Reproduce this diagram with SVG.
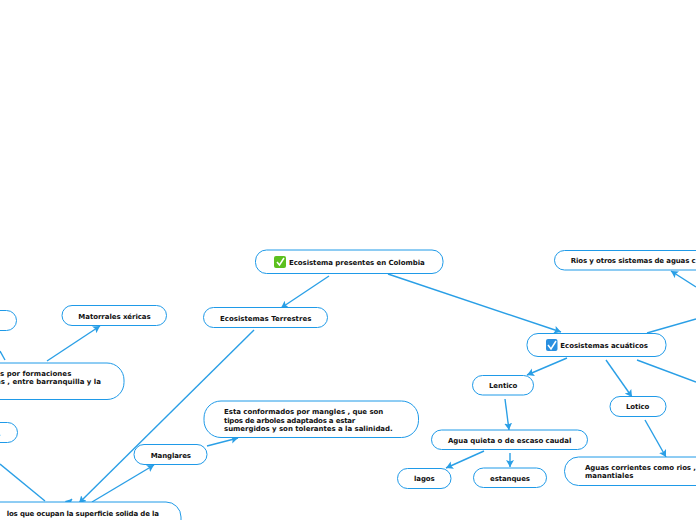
<svg xmlns="http://www.w3.org/2000/svg" width="696" height="520" viewBox="0 0 696 520">
<style>
.n{fill:#fff;stroke:#1f9ae8;stroke-width:1}
text{font-family:"DejaVu Sans",Verdana,sans-serif;font-weight:700;font-size:7px;fill:#111}
.c{fill:none;stroke:#2a9fe6;stroke-width:1.4;marker-end:url(#a)}
.e{fill:none;stroke:#2a9fe6;stroke-width:1.4}
</style>
<defs>
<marker id="a" markerUnits="userSpaceOnUse" markerWidth="10" markerHeight="10" refX="7" refY="4" orient="auto"><path d="M0,0L7,4L0,8L1.5,4Z" fill="#2a9fe6"/></marker>
</defs>
<rect width="696" height="520" fill="#fff"/>
<g id="connectors">
<path class="c" d="M329,276L281,308"/>
<path class="c" d="M388,274L561,332"/>
<path class="c" d="M254,330L79,503"/>
<path class="c" d="M696,287L671,271"/>
<path class="e" d="M647,333L696,319"/>
<path class="c" d="M567,358L527,375"/>
<path class="c" d="M606,360L632,397"/>
<path class="e" d="M637,360L696,382"/>
<path class="c" d="M505,399L509,430"/>
<path class="c" d="M645,420L666,457"/>
<path class="c" d="M484,451L446,468"/>
<path class="c" d="M510,453L510,467"/>
<path class="c" d="M47,361L100,326"/>
<path class="e" d="M5,360L0,351"/>
<path class="e" d="M45,501L0,464"/>
<path class="c" d="M66,505L72,499"/>
<path class="c" d="M92,502L154,465"/>
<path class="c" d="M207,446L238,438"/>
</g>
<g id="root"><rect class="n" x="255.500" y="250" width="187.500" height="23.500" rx="11"/><rect x="274" y="256" width="12" height="12" rx="2" fill="#5cc01e"/><path d="M277,262L279.500,265L284,258" fill="none" stroke="#fff" stroke-width="1.500"/><text x="289" y="265" textLength="135.700">Ecosistema presentes en Colombia</text></g>
<g id="terrestres"><rect class="n" x="203.500" y="307.500" width="124" height="20" rx="10"/><text x="220" y="321" textLength="91.300">Ecosistemas Terrestres</text></g>
<g id="acuaticos"><rect class="n" x="527" y="333.500" width="139" height="23" rx="11"/><rect x="546" y="339" width="11.500" height="12" rx="2" fill="#2a8fe0"/><path d="M548,345L551,349L556,341" fill="none" stroke="#fff" stroke-width="1.500"/><text x="560.300" y="348" textLength="87.700">Ecosistemas acuáticos</text></g>
<g id="rios"><rect class="n" x="554.500" y="250.500" width="170" height="19.500" rx="10"/><text x="570.700" y="263" textLength="125">Rios y otros sistemas de aguas c</text></g>
<g id="matorrales"><rect class="n" x="62" y="305.500" width="104.500" height="20" rx="10"/><text x="78.300" y="319" textLength="72.400">Matorrales xéricas</text></g>
<g id="left1"><rect class="n" x="-40" y="310.500" width="56.500" height="20" rx="10"/></g>
<g id="formaciones"><rect class="n" x="-100" y="363" width="224" height="36.500" rx="17"/><text x="0" y="375.500" textLength="71.300">s por formaciones</text><text x="-4" y="384" textLength="105">as , entre barranquilla y la</text></g>
<g id="left2"><rect class="n" x="-40" y="422.500" width="57.500" height="20" rx="10"/><text x="-2" y="436">.</text></g>
<g id="bottom"><rect class="n" x="-100" y="502" width="281" height="50" rx="15"/><text x="6.700" y="516" textLength="152.300">los que ocupan la superficie solida de la</text></g>
<g id="manglares"><rect class="n" x="134" y="444.500" width="73" height="20" rx="10"/><text x="150.700" y="458" textLength="40.300">Manglares</text></g>
<g id="esta"><rect class="n" x="204" y="401" width="214.500" height="36.500" rx="17"/><text x="224" y="414" textLength="159.300">Esta conformados por mangles , que son</text><text x="224" y="422.500" textLength="131.300">tipos de arboles adaptados a estar</text><text x="224" y="431" textLength="168.700">sumergidos y son tolerantes a la salinidad.</text></g>
<g id="lentico"><rect class="n" x="472.500" y="375.500" width="61" height="19.500" rx="10"/><text x="489" y="388" textLength="28.300">Lentico</text></g>
<g id="lotico"><rect class="n" x="610" y="396.500" width="56" height="20" rx="10"/><text x="626" y="409" textLength="23.300">Lotico</text></g>
<g id="agua"><rect class="n" x="431.500" y="430" width="156" height="19.500" rx="10"/><text x="448" y="443" textLength="123.300">Agua quieta o de escaso caudal</text></g>
<g id="lagos"><rect class="n" x="397.500" y="468.500" width="53.500" height="20" rx="10"/><text x="414" y="481" textLength="20.700">lagos</text></g>
<g id="estanques"><rect class="n" x="473.500" y="468" width="73" height="19.500" rx="10"/><text x="490" y="481" textLength="40">estanques</text></g>
<g id="aguas"><rect class="n" x="564.500" y="457" width="200" height="28.500" rx="14"/><text x="585" y="470" textLength="111">Aguas corrientes como rios ,</text><text x="585" y="478" textLength="48.300">manantiales</text></g>
</svg>
